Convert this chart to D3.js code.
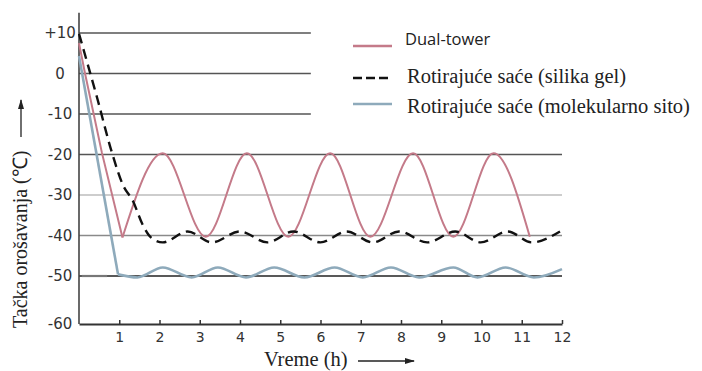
<!DOCTYPE html>
<html>
<head>
<meta charset="utf-8">
<script src="https://cdn.jsdelivr.net/npm/d3@7"></script>
<style>
  body { margin: 0; background: #fff; }
  svg { display: block; }
</style>
</head>
<body>
<svg id="chart" width="702" height="371"></svg>
<script>
// hours on the x axis, temperatures on the y axis
var hourTicks = [1, 2, 3, 4, 5, 6, 7, 8, 9, 10, 11, 12];
var tempTicks = [10, 0, -10, -20, -30, -40, -50, -60];
var tempLabels = ["+10", "0", "-10", "-20", "-30", "-40", "-50", "-60"];

// Dual-tower: straight drop, then the big swing
var dualRampTime = [0, 0.15, 0.57, 1.08];
var dualRampTemp = [7.5, 0, -19.6, -40.5];
var dualWaveTime = [1.08, 2.08, 3.15, 4.17, 5.2, 6.24, 7.24, 8.3, 9.3, 10.3, 11.2];
var dualWaveTemp = [-40.5, -19.7, -40.3, -19.7, -40.3, -19.7, -40.3, -19.7, -40.3, -19.7, -40.3];

// silika gel (dashed)
var silicaTime = [0, 0.45, 0.82, 1.09, 1.34, 1.59, 1.8, 2.08, 2.7, 3.3, 4.0, 4.68, 5.33, 6.0, 6.65, 7.3, 7.95, 8.65, 9.35, 9.98, 10.65, 11.25, 11.95];
var silicaTemp = [9.8, -6, -19.6, -27.5, -31.5, -37.5, -40.6, -41.7, -39, -41.7, -39, -41.7, -39, -41.7, -39, -41.7, -39, -41.7, -39, -41.7, -39, -41.7, -39];

// molekularno sito
var sieveRampTime = [0, 0.97];
var sieveRampTemp = [4.3, -49.6];
var sieveWaveTime = [0.97, 1.45, 2.08, 2.8, 3.45, 4.15, 4.85, 5.6, 6.35, 7.05, 7.75, 8.45, 9.3, 9.9, 10.6, 11.3, 12];
var sieveWaveTemp = [-49.6, -50.3, -47.9, -50.3, -47.9, -50.3, -47.9, -50.3, -47.9, -50.3, -47.9, -50.3, -47.9, -50.3, -47.9, -50.3, -48.3];

var legendNames = ["Dual-tower", "Rotirajuće saće (silika gel)", "Rotirajuće saće (molekularno sito)"];

var pink = "#c47a89", blue = "#8eaabb";

var svg = d3.select("#chart");

var x = d3.scaleLinear().domain([0, 12]).range([79, 562]);
// bottom gap (-50 to -60) is drawn a bit taller in the original
var y = d3.scaleLinear().domain([-60, -50, 10]).range([324, 276, 33]);

function zip(a, b) { return a.map(function (d, i) { return [d, b[i]]; }); }

// grid lines
var gridStyle = {
  "10": { c: "#555", end: 5.76 },
  "0": { c: "#555", end: 5.76 },
  "-10": { c: "#555", end: 5.76 },
  "-20": { c: "#555", end: 12 },
  "-30": { c: "#bdbdbd", end: 12 },
  "-40": { c: "#8a8a8a", end: 12 },
  "-50": { c: "#222", end: 12 }
};
svg.append("g").selectAll("line")
  .data(tempTicks.filter(function (d) { return d > -60; }))
  .enter().append("line")
  .attr("x1", x(0))
  .attr("x2", function (d) { return x(gridStyle[d].end); })
  .attr("y1", function (d) { return y(d); })
  .attr("y2", function (d) { return y(d); })
  .attr("stroke", function (d) { return gridStyle[d].c; })
  .attr("stroke-width", 1.4);

// short grey stub at -50
svg.append("line")
  .attr("x1", x(0.07)).attr("x2", x(0.7))
  .attr("y1", y(-50)).attr("y2", y(-50))
  .attr("stroke", "#777").attr("stroke-width", 2.2);

// y axis
var yAxis = svg.append("g")
  .attr("transform", "translate(" + x(0) + ",0)")
  .call(d3.axisLeft(y).tickValues(tempTicks).tickSize(0)
    .tickFormat(function (d, i) { return tempLabels[i]; }));
yAxis.select(".domain").remove();
yAxis.selectAll("text")
  .attr("x", -19)
  .attr("text-anchor", "middle")
  .attr("fill", "#333")
  .style("font-family", "DejaVu Sans, sans-serif")
  .style("font-size", "15px");

svg.append("line")
  .attr("x1", x(0)).attr("x2", x(0))
  .attr("y1", y(-60)).attr("y2", y(15))
  .attr("stroke", "#444").attr("stroke-width", 1.6);

// x axis
var xAxis = svg.append("g")
  .attr("transform", "translate(0," + y(-60) + ")")
  .call(d3.axisBottom(x).tickValues(hourTicks).tickSize(-4).tickSizeOuter(0).tickPadding(8));
xAxis.select(".domain").attr("stroke", "#333").attr("stroke-width", 2);
xAxis.selectAll(".tick line").attr("stroke", "#333").attr("stroke-width", 1.5);
xAxis.selectAll("text")
  .attr("fill", "#333")
  .style("font-family", "DejaVu Sans, sans-serif")
  .style("font-size", "14px");

// series
var lin = d3.line().x(function (d) { return x(d[0]); }).y(function (d) { return y(d[1]); });
var smooth = d3.line().curve(d3.curveMonotoneX)
  .x(function (d) { return x(d[0]); }).y(function (d) { return y(d[1]); });

svg.append("path").datum(zip(sieveRampTime, sieveRampTemp))
  .attr("d", lin).attr("fill", "none").attr("stroke", blue).attr("stroke-width", 2.6);
svg.append("path").datum(zip(sieveWaveTime, sieveWaveTemp))
  .attr("d", smooth).attr("fill", "none").attr("stroke", blue).attr("stroke-width", 2.6);

svg.append("path").datum(zip(dualRampTime, dualRampTemp))
  .attr("d", lin).attr("fill", "none").attr("stroke", pink).attr("stroke-width", 2);
svg.append("path").datum(zip(dualWaveTime, dualWaveTemp))
  .attr("d", smooth).attr("fill", "none").attr("stroke", pink).attr("stroke-width", 2);

svg.append("path").datum(zip(silicaTime, silicaTemp))
  .attr("d", smooth).attr("fill", "none").attr("stroke", "#111")
  .attr("stroke-width", 2.4).attr("stroke-dasharray", "10,6");

// legend
var lg = svg.append("g");
var legendRows = [
  { y: 46, stroke: pink, dash: null, w: 2.6, ty: 45, font: "Open Sans, sans-serif", size: "16.5px" },
  { y: 78, stroke: "#111", dash: "9,4", w: 2.4, ty: 83, font: "Liberation Serif, serif", size: "20.5px" },
  { y: 104, stroke: blue, dash: null, w: 2.6, ty: 113, font: "Liberation Serif, serif", size: "20.5px" }
];
legendRows.forEach(function (r, i) {
  lg.append("line")
    .attr("x1", 353).attr("x2", 392)
    .attr("y1", r.y).attr("y2", r.y)
    .attr("stroke", r.stroke).attr("stroke-width", r.w)
    .attr("stroke-dasharray", r.dash);
  lg.append("text")
    .attr("x", i === 0 ? 405 : 407).attr("y", r.ty)
    .attr("fill", "#222")
    .style("font-family", r.font)
    .style("font-size", r.size)
    .text(legendNames[i]);
});

// axis titles with arrows
svg.append("defs").append("marker")
  .attr("id", "arr").attr("viewBox", "0 0 10 6")
  .attr("refX", 9).attr("refY", 3)
  .attr("markerWidth", 10).attr("markerHeight", 6)
  .attr("markerUnits", "userSpaceOnUse")
  .attr("orient", "auto")
  .append("path").attr("d", "M0,0L10,3L0,6Z").attr("fill", "#222");

svg.append("text")
  .attr("transform", "translate(27,328) rotate(-90)")
  .attr("fill", "#222")
  .style("font-family", "Liberation Serif, serif")
  .style("font-size", "20px")
  .text("Tačka orošavanja (℃)");
svg.append("line")
  .attr("x1", 21).attr("x2", 21).attr("y1", 137).attr("y2", 100)
  .attr("stroke", "#222").attr("stroke-width", 1.3)
  .attr("marker-end", "url(#arr)");

svg.append("text")
  .attr("x", 264).attr("y", 366)
  .attr("fill", "#222")
  .style("font-family", "Liberation Serif, serif")
  .style("font-size", "20.5px")
  .text("Vreme (h)");
svg.append("line")
  .attr("x1", 358).attr("x2", 414).attr("y1", 361).attr("y2", 361)
  .attr("stroke", "#222").attr("stroke-width", 1.3)
  .attr("marker-end", "url(#arr)");
</script>
</body>
</html>
